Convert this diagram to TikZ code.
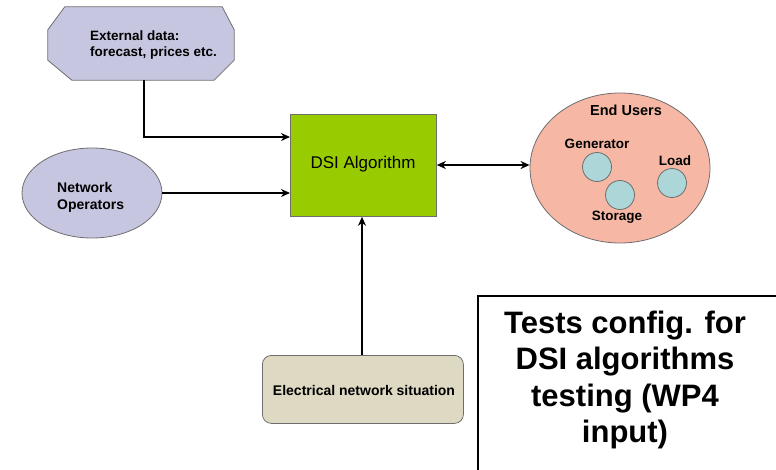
\documentclass[tikz,border=0pt]{standalone}
\usepackage{fontspec}
\setmainfont{Liberation Sans}
\usetikzlibrary{shapes.geometric,arrows.meta,calc}
\definecolor{lav}{RGB}{198,198,224}
\definecolor{dsigreen}{RGB}{153,204,0}
\definecolor{salmon}{RGB}{246,184,164}
\definecolor{lblue}{RGB}{172,214,216}
\definecolor{khaki}{RGB}{221,217,195}
\definecolor{edge}{RGB}{110,110,110}
\tikzset{
  lbl/.style={font=\fontsize{13.5}{16}\selectfont\bfseries, inner sep=0pt},
  conn/.style={line width=2.6pt, -{Stealth[length=9pt,width=8pt]}},
  shapeedge/.style={draw=edge, line width=0.8pt}
}
\begin{document}
\begin{tikzpicture}[x=1pt,y=-1pt]
\useasboundingbox (0,0) rectangle (776,469);
% External data (octagon)
\node (ext) [minimum width=186pt, minimum height=73pt, inner sep=0pt] at (141,43.5) {};
\draw[shapeedge, fill=lav]
  ($(ext.north west)+(17,0)$) -- ($(ext.north east)+(-12,0)$) -- ($(ext.north east)+(0,23)$)
  -- ($(ext.south east)+(0,-20)$) -- ($(ext.south east)+(-20,0)$) -- ($(ext.south west)+(24,0)$)
  -- ($(ext.south west)+(0,-20)$) -- ($(ext.north west)+(0,23)$) -- cycle;
\node[lbl, align=left, anchor=west, font=\fontsize{13.5}{16}\selectfont\bfseries] (exttxt) at (90,45) {External data:\\forecast, prices etc.};
% Network operators
\node (netop) [ellipse, shapeedge, fill=lav, minimum width=140pt, minimum height=90pt, inner sep=0pt] at (92,193) {};
\node[lbl, align=left, anchor=west, font=\fontsize{14}{17}\selectfont\bfseries] (netoptxt) at (57,197) {Network\\Operators};
% DSI box
\node (dsi) [shapeedge, fill=dsigreen, minimum width=146pt, minimum height=102pt, inner sep=0pt, anchor=north west] at (290,114) {};
\node[font=\fontsize{17}{20}\selectfont, inner sep=0pt] (dsitxt) at (363,164) {DSI Algorithm};
% End users
\node (eu) [ellipse, shapeedge, fill=salmon, minimum width=180pt, minimum height=150pt, inner sep=0pt] at (620,168) {};
\node[lbl, font=\fontsize{14.5}{17}\selectfont\bfseries] (eutxt) at (626,110) {End Users};
\node (gen) [circle, shapeedge, fill=lblue, minimum size=29pt, inner sep=0pt] at (597,167) {};
\node (sto) [circle, shapeedge, fill=lblue, minimum size=29pt, inner sep=0pt] at (620,195) {};
\node (load) [circle, shapeedge, fill=lblue, minimum size=29pt, inner sep=0pt] at (672,183) {};
\node[lbl] (gentxt) at (597,144) {Generator};
\node[lbl] (stotxt) at (617,217) {Storage};
\node[lbl] (loadtxt) at (675,161) {Load};
% Electrical network situation
\node (elec) [shapeedge, fill=khaki, rounded corners=9pt, minimum width=201pt, minimum height=68pt, inner sep=0pt, anchor=north west] at (262,355) {};
\node[lbl, font=\fontsize{14}{17}\selectfont\bfseries] (electxt) at (364,390) {Electrical network situation};
% Note box
\node (note) [draw, line width=2pt, minimum width=320pt, minimum height=200pt, anchor=north west, inner sep=0pt] at (477,295) {};
\node[font=\fontsize{31}{36.3}\selectfont\bfseries, align=center, inner sep=0pt] (notetxt) at (625,380) {Tests config. for\\DSI algorithms\\testing (WP4\\input)};
% connectors
\draw[conn] (ext.south -| 144,0) -- (144,137) -- (dsi.west |- 0,137);
\draw[conn] (netop.east) -- (dsi.west |- netop.east);
\draw[conn, {Stealth[length=9pt,width=8pt]}-{Stealth[length=9pt,width=8pt]}] (dsi.east |- 0,165) -- (eu.west |- 0,165);
\draw[conn] (elec.north -| 362,0) -- (dsi.south -| 362,0);
\end{tikzpicture}
\end{document}
